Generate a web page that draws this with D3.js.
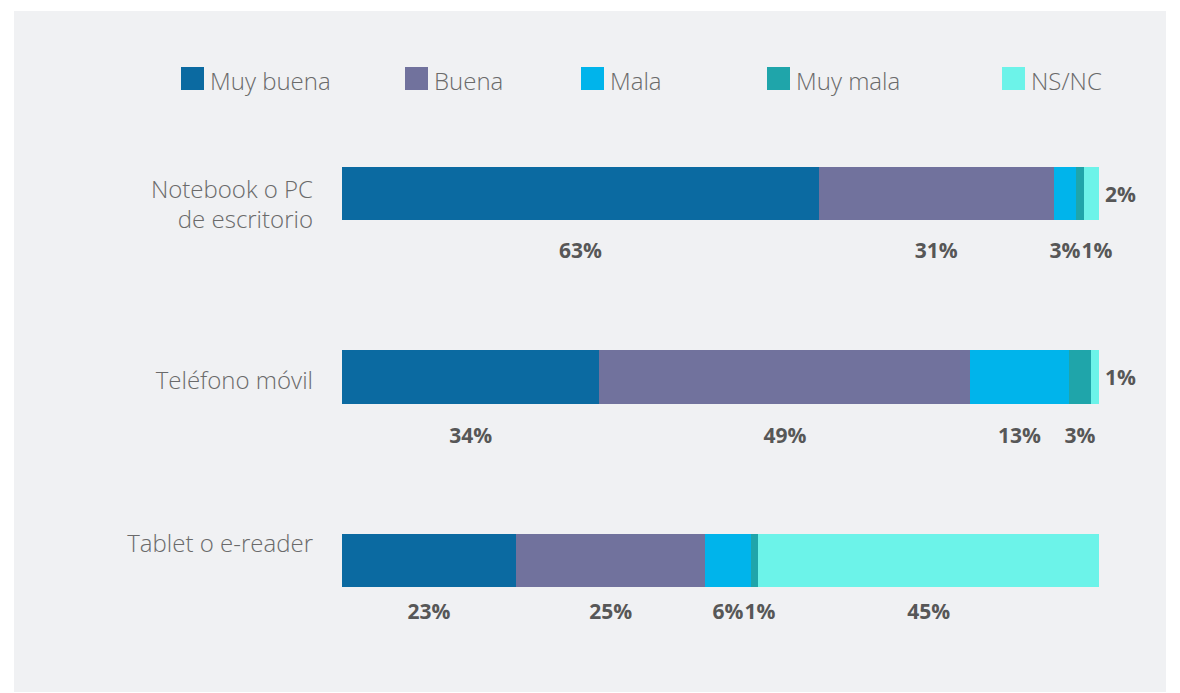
<!DOCTYPE html>
<html>
<head>
<meta charset="utf-8">
<script src="https://cdn.jsdelivr.net/npm/d3@7"></script>
<style>
  html, body { margin: 0; padding: 0; background: #ffffff; }
  svg { display: block; }
</style>
</head>
<body>
<svg id="chart" width="1180" height="693"></svg>
<script>
// ---- data ----
const categories = ["Notebook o PC\nde escritorio", "Teléfono móvil", "Tablet o e-reader"];
const seriesNames = ["Muy buena", "Buena", "Mala", "Muy mala", "NS/NC"];
const muyBuena = [63, 34, 23];
const buena    = [31, 49, 25];
const mala     = [3, 13, 6];
const muyMala  = [1, 3, 1];
const nsnc     = [2, 1, 45];

// ---- style / layout ----
const colors = ["#0b6aa1", "#71729d", "#00b4eb", "#1fa5aa", "#6cf3e9"];
const legendX = [181, 405, 581, 767, 1002];
const catLabelOffset = [31, 39, 18];      // baseline of first line below band top
const valueLabelOffset = [38, 39, 32];    // baseline below band bottom
const W = 1180, H = 693;

const svg = d3.select("#chart");
svg.append("rect").attr("x", 14).attr("y", 11).attr("width", W - 28).attr("height", H - 12)
  .attr("fill", "#f0f1f3");

const table = categories.map((c, i) => ({
  cat: c,
  "Muy buena": muyBuena[i], "Buena": buena[i], "Mala": mala[i], "Muy mala": muyMala[i], "NS/NC": nsnc[i]
}));
const stacked = d3.stack().keys(seriesNames)(table);

const x = d3.scaleLinear().domain([0, 100]).range([342, 1099]);
const y = d3.scaleBand().domain(categories).range([167, 587]).paddingInner(0.711).paddingOuter(0);
const color = d3.scaleOrdinal().domain(seriesNames).range(colors);

// bars
svg.append("g").selectAll("g").data(stacked).join("g")
  .attr("fill", d => color(d.key))
  .selectAll("rect").data(d => d).join("rect")
  .attr("x", d => x(d[0]))
  .attr("y", d => y(d.data.cat))
  .attr("width", d => x(d[1]) - x(d[0]))
  .attr("height", y.bandwidth())
  .attr("shape-rendering", "crispEdges");

// category labels
categories.forEach((c, i) => {
  const t = svg.append("text")
    .attr("text-anchor", "end")
    .attr("font-family", "'Open Sans', sans-serif")
    .attr("font-weight", 300)
    .attr("font-size", 24)
    .attr("fill", "#6a6a6a");
  c.split("\n").forEach((line, j) => {
    t.append("tspan").attr("x", 313)
      .attr("y", y(c) + catLabelOffset[i] + j * 30)
      .text(line);
  });
});

// value labels
const labelsG = svg.append("g")
  .attr("font-family", "'Open Sans', sans-serif")
  .attr("font-weight", 700)
  .attr("font-size", 21)
  .attr("fill", "#575757");

categories.forEach((c, i) => {
  const segs = stacked.map((s, k) => ({ key: s.key, k, v: s[i][1] - s[i][0], x0: s[i][0], x1: s[i][1] }));
  const below = [];
  segs.forEach((s, k) => {
    if (k === segs.length - 1 && s.v <= 2) {
      labelsG.append("text")
        .attr("x", x(s.x1) + 6)
        .attr("y", y(c) + y.bandwidth() / 2 + 8)
        .attr("text-anchor", "start")
        .text(s.v + "%");
    } else {
      below.push(s);
    }
  });
  const texts = below.map(s => {
    const t = labelsG.append("text")
      .attr("text-anchor", "middle")
      .attr("y", y(c) + y.bandwidth() + valueLabelOffset[i])
      .text(s.v + "%");
    const w = t.node().getComputedTextLength();
    return { t, cx: x((s.x0 + s.x1) / 2), w };
  });
  // push right to avoid overlap
  for (let j = 1; j < texts.length; j++) {
    const prev = texts[j - 1], cur = texts[j];
    const minCx = prev.cx + prev.w / 2 + 1 + cur.w / 2;
    if (cur.cx < minCx) cur.cx = minCx;
  }
  texts.forEach(o => o.t.attr("x", o.cx));
});

// legend
const lg = svg.append("g");
seriesNames.forEach((n, i) => {
  lg.append("rect").attr("x", legendX[i]).attr("y", 67).attr("width", 23).attr("height", 23)
    .attr("fill", color(n));
  lg.append("text").attr("x", legendX[i] + 29).attr("y", 90)
    .attr("font-family", "'Open Sans', sans-serif")
    .attr("font-weight", 300)
    .attr("font-size", 24)
    .attr("fill", "#6a6a6a")
    .text(n);
});
</script>
</body>
</html>
